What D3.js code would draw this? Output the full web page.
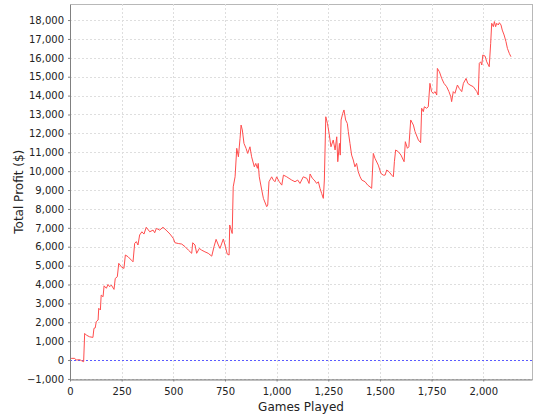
<!DOCTYPE html>
<html>
<head>
<meta charset="utf-8">
<script src="https://cdn.jsdelivr.net/npm/d3@7"></script>
<style>
  html, body { margin: 0; padding: 0; background: #fff; }
  svg { display: block; }
</style>
</head>
<body>
<svg id="chart" width="540" height="420"></svg>
<script>
// ---- data ----
const games = [0,6,23,30,47,55,66,71,79,95,111,116,122,127,136,139,147,151,160,165,176,184,192,200,213,219,229,236,248,261,268,281,297,305,313,321,329,337,348,358,369,386,402,410,418,434,450,465,484,500,508,524,541,557,573,589,594,605,613,626,637,653,669,686,697,707,718,726,742,750,761,770,773,785,790,799,807,815,823,828,834,842,852,860,871,879,892,899,907,911,916,928,936,952,957,963,976,984,992,1000,1013,1025,1033,1049,1060,1073,1089,1102,1113,1129,1146,1157,1162,1173,1182,1194,1202,1210,1218,1226,1231,1238,1246,1254,1263,1274,1283,1291,1296,1304,1308,1312,1320,1326,1334,1342,1347,1355,1363,1371,1379,1387,1395,1404,1412,1428,1441,1452,1460,1468,1476,1492,1505,1516,1525,1533,1544,1557,1565,1570,1576,1589,1602,1613,1617,1623,1633,1640,1649,1662,1670,1686,1697,1702,1710,1715,1726,1734,1742,1750,1758,1767,1775,1778,1788,1799,1810,1823,1834,1843,1847,1855,1863,1875,1884,1896,1904,1917,1925,1936,1952,1969,1976,1981,1988,1993,1998,2009,2017,2025,2029,2036,2041,2049,2054,2060,2065,2073,2078,2086,2092,2101,2110,2117,2126,2134];
const profit = [0,90,90,0,20,-30,-90,1410,1320,1230,1200,1680,1700,2030,2120,2740,2650,3440,3350,3930,3800,4000,3880,3970,3740,4320,4410,5120,4940,4850,5560,5470,5290,5200,6180,6270,6090,6620,6790,6670,7030,6790,6880,6740,6970,6880,7030,6880,6670,6440,6210,6170,6140,6000,5820,5650,6210,6090,5650,5910,5820,5730,5650,5500,6000,6390,6090,5910,6410,6090,5610,5560,7150,6700,9170,9700,11210,10760,11740,12440,12180,11470,11210,10940,11290,10760,10230,10410,10150,10410,9700,9000,8560,8120,8200,9440,9700,9530,9440,9700,9440,9260,9790,9700,9620,9530,9440,9530,9350,9700,9620,9350,9850,9620,9530,9350,9440,9090,8820,8560,9530,12880,12530,12000,11290,11650,11120,11820,10500,11470,10850,12710,13060,13240,12710,12530,12090,11470,10850,10590,10230,10410,9970,9700,9530,9440,9260,9170,9090,10940,10680,10320,9880,9790,9790,10060,9970,9790,9700,10500,11120,11030,10850,10590,10500,11560,11210,11290,12710,12440,12090,11650,11510,13330,13150,13410,13330,13410,14650,14210,14120,14210,14030,15440,15260,14910,14650,14470,14210,13940,13680,14210,14120,14560,14380,14210,14650,14910,14650,14560,14470,14210,14030,15710,15790,15620,16150,16090,15790,15620,15530,16770,17830,17650,17920,17650,17830,17740,17860,17740,17470,17210,16860,16500,16240,16060];
const xTicks = [0,250,500,750,1000,1250,1500,1750,2000];
const yTicks = [-1000,0,1000,2000,3000,4000,5000,6000,7000,8000,9000,10000,11000,12000,13000,14000,15000,16000,17000,18000];
const xLabel = "Games Played";
const yLabel = "Total Profit ($)";

// ---- layout ----
const W = 540, H = 420;
const m = {left: 70, top: 4, right: 8, bottom: 40.5};
const pw = W - m.left - m.right, ph = H - m.top - m.bottom;
const svg = d3.select("#chart");
const g = svg.append("g").attr("transform", `translate(${m.left},${m.top})`);

const x = d3.scaleLinear().domain([0, 2236]).range([0, pw]);
const y = d3.scaleLinear().domain([-1030, 18850]).range([ph, 0]);

const fmt = d3.format(",");
const font = "DejaVu Sans, sans-serif";

// plot background / border
g.append("rect").attr("x", 0).attr("y", 0).attr("width", pw).attr("height", ph)
  .attr("fill", "#fff").attr("stroke", "#b8b8b8").attr("stroke-width", 1)
  .attr("shape-rendering", "crispEdges");

// gridlines
g.append("g").selectAll("line").data(xTicks).join("line")
  .attr("x1", d => Math.round(x(d)) + 0.5).attr("x2", d => Math.round(x(d)) + 0.5)
  .attr("y1", 0).attr("y2", ph)
  .attr("stroke", "#dedede").attr("stroke-dasharray", "2,2").attr("stroke-width", 1);
g.append("g").selectAll("line").data(yTicks).join("line")
  .attr("y1", d => Math.round(y(d)) + 0.5).attr("y2", d => Math.round(y(d)) + 0.5)
  .attr("x1", 0).attr("x2", pw)
  .attr("stroke", "#dedede").attr("stroke-dasharray", "2,2").attr("stroke-width", 1);

// zero marker
g.append("line")
  .attr("x1", 0).attr("x2", pw)
  .attr("y1", Math.round(y(0)) + 0.5).attr("y2", Math.round(y(0)) + 0.5)
  .attr("stroke", "#5a5aff").attr("stroke-dasharray", "2,2").attr("stroke-width", 1);

// line
const pts = games.map((d, i) => [d, profit[i]]);
g.append("path").datum(pts)
  .attr("fill", "none").attr("stroke", "#ff4d4d").attr("stroke-width", 1)
  .attr("stroke-linejoin", "miter")
  .attr("d", d3.line().x(d => x(d[0])).y(d => y(d[1])));

// axes
const xAxis = g.append("g").attr("transform", `translate(0,${ph})`)
  .call(d3.axisBottom(x).tickValues(xTicks).tickFormat(fmt).tickSizeInner(2).tickSizeOuter(0).tickPadding(6));
const yAxis = g.append("g")
  .call(d3.axisLeft(y).tickValues(yTicks).tickFormat(fmt).tickSizeInner(2).tickSizeOuter(0).tickPadding(4));
[xAxis, yAxis].forEach(a => {
  a.select(".domain").attr("stroke", "#808080");
  a.selectAll(".tick line").attr("stroke", "#808080");
  a.selectAll("text").attr("fill", "#222").attr("font-family", font).attr("font-size", "10px");
});

// axis titles
svg.append("text").attr("x", m.left + pw / 2).attr("y", 411)
  .attr("text-anchor", "middle").attr("font-family", font).attr("font-size", "12px")
  .attr("fill", "#222").text(xLabel);
svg.append("text").attr("transform", `translate(23,${m.top + ph / 2}) rotate(-90)`)
  .attr("text-anchor", "middle").attr("font-family", font).attr("font-size", "12px")
  .attr("fill", "#222").text(yLabel);
</script>
</body>
</html>
